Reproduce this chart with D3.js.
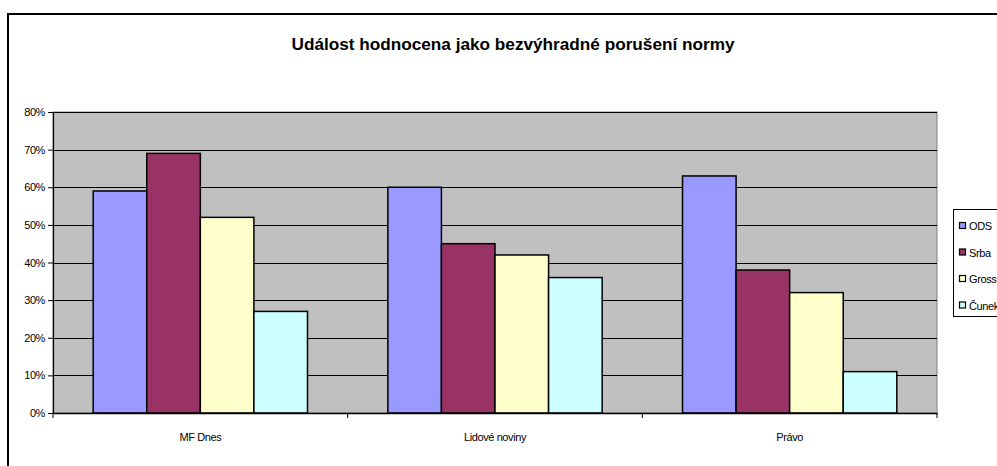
<!DOCTYPE html>
<html><head><meta charset="utf-8">
<script src="https://cdn.jsdelivr.net/npm/d3@7"></script>
<style>body{margin:0;background:#fff;}svg{display:block;font-family:"Liberation Sans",Arial,sans-serif;}</style>
</head><body>
<svg id="c" width="997" height="466"></svg>
<script>
const categories = ["MF Dnes", "Lidové noviny", "Právo"];
const seriesNames = ["ODS", "Srba", "Gross", "Čunek"];
const colors = ["#9999FF", "#993366", "#FFFFCC", "#CCFFFF"];
const valuesODS = [0.59, 0.60, 0.63];
const valuesSrba = [0.69, 0.45, 0.38];
const valuesGross = [0.52, 0.42, 0.32];
const valuesCunek = [0.27, 0.36, 0.11];
const yTicks = [0, 0.1, 0.2, 0.3, 0.4, 0.5, 0.6, 0.7, 0.8];
const titleText = "Událost hodnocena jako bezvýhradné porušení normy";

(function () {
const series = [valuesODS, valuesSrba, valuesGross, valuesCunek];
const svg = d3.select("#c");

// outer frame
svg.append("rect").attr("x", 8).attr("y", 14).attr("width", 1100).attr("height", 600)
  .attr("fill", "#fff").attr("stroke", "#000").attr("stroke-width", 2);

const pL = 53, pR = 937, pT = 112, pB = 413;
const x0 = d3.scaleBand().domain(categories).range([pL, pR]).paddingInner(0).paddingOuter(0);
const y = d3.scaleLinear().domain([0, 0.8]).range([pB, pT]);
const gapRatio = 1.5;
const barW = x0.bandwidth() / (series.length + gapRatio);
const x1 = d3.scaleBand().domain(seriesNames).range([0, barW * series.length]);

// plot background
svg.append("rect").attr("x", pL).attr("y", pT).attr("width", pR - pL).attr("height", pB - pT)
  .attr("fill", "#C0C0C0").attr("stroke", "#808080").attr("stroke-width", 1);

// gridlines
svg.append("g").selectAll("line").data(yTicks.filter(t => t > 0)).join("line")
  .attr("x1", pL).attr("x2", pR)
  .attr("y1", d => Math.round(y(d)) + 0.5).attr("y2", d => Math.round(y(d)) + 0.5)
  .attr("stroke", "#000").attr("stroke-width", 1.2);

// bars
const g = svg.append("g");
categories.forEach((c, ci) => {
  series.forEach((s, si) => {
    const bx = x0(c) + x0.bandwidth() / 2 - barW * series.length / 2 + x1(seriesNames[si]);
    g.append("rect")
      .attr("x", bx).attr("y", y(s[ci]))
      .attr("width", x1.bandwidth()).attr("height", y(0) - y(s[ci]))
      .attr("fill", colors[si]).attr("stroke", "#000").attr("stroke-width", 1.5);
  });
});

// y axis
const yAxis = d3.axisLeft(y).tickValues(yTicks).tickFormat(d3.format(".0%")).tickSize(5).tickPadding(3);
const ya = svg.append("g").attr("transform", `translate(${pL},0)`).call(yAxis);
ya.select(".domain").attr("stroke", "#000").attr("stroke-width", 1.2);
ya.selectAll("text").attr("font-size", 11).attr("fill", "#000").attr("letter-spacing", -0.4)
  .attr("font-family", "'Liberation Sans',Arial,sans-serif");

// x axis
const xAxis = d3.axisBottom(x0).tickSize(0).tickPadding(20);
const xa = svg.append("g").attr("transform", `translate(0,${pB})`).call(xAxis);
xa.select(".domain").attr("stroke", "#000").attr("stroke-width", 1.5);
xa.selectAll("text").attr("font-size", 11).attr("fill", "#000").attr("letter-spacing", -0.4)
  .attr("font-family", "'Liberation Sans',Arial,sans-serif");
const bounds = categories.map(c => x0(c)).concat([pR]);
svg.append("g").selectAll("line").data(bounds).join("line")
  .attr("x1", d => d).attr("x2", d => d).attr("y1", pB).attr("y2", pB + 5)
  .attr("stroke", "#000").attr("stroke-width", 1);

// title
svg.append("text").attr("x", 513).attr("y", 50).attr("text-anchor", "middle")
  .attr("font-size", 16).attr("font-weight", "bold").attr("fill", "#000")
  .attr("textLength", 443).attr("lengthAdjust", "spacingAndGlyphs")
  .text(titleText);

// legend
const lg = svg.append("g");
lg.append("rect").attr("x", 953.5).attr("y", 209.5).attr("width", 80).attr("height", 107)
  .attr("fill", "#fff").attr("stroke", "#000").attr("stroke-width", 1);
seriesNames.forEach((n, i) => {
  const cy = 226 + i * 26.5;
  lg.append("rect").attr("x", 959.5).attr("y", cy - 3.5).attr("width", 6).attr("height", 6)
    .attr("fill", colors[i]).attr("stroke", "#000").attr("stroke-width", 1.2);
  lg.append("text").attr("x", 969).attr("y", cy + 4).attr("font-size", 11).attr("letter-spacing", -0.4)
    .attr("fill", "#000").text(n);
});
})();
</script>
</body></html>
